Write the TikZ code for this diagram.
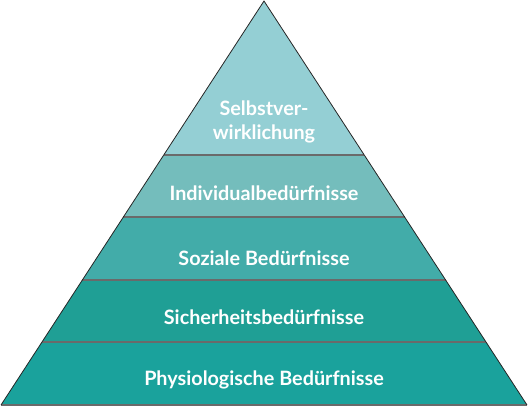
\documentclass[tikz,border=0pt]{standalone}
\usepackage{fontspec}
\setmainfont{Lato}[UprightFont=* Bold]
\definecolor{c1}{HTML}{94CFD4}
\definecolor{c2}{HTML}{74BDBC}
\definecolor{c3}{HTML}{42ACA9}
\definecolor{c4}{HTML}{1F9F95}
\definecolor{c5}{HTML}{1AA29C}
\definecolor{sep}{HTML}{6A6A6A}
\begin{document}
\begin{tikzpicture}[x=1pt,y=-1pt,
  lbl/.style={text=white,font=\fontsize{19.8}{23.5}\selectfont,align=center,inner sep=0pt},
  sepline/.style={draw=sep,line width=1.8pt}]
\useasboundingbox (0,0) rectangle (528,407);
\coordinate (apex) at (264,1);
\coordinate (bl) at (1,405);
\coordinate (br) at (527,405);
\coordinate (l1) at (163.7,155); \coordinate (r1) at (364.3,155);
\coordinate (l2) at (123.3,217); \coordinate (r2) at (404.7,217);
\coordinate (l3) at (82.3,280); \coordinate (r3) at (445.7,280);
\coordinate (l4) at (41.9,342); \coordinate (r4) at (486.1,342);
\fill[c1] (apex) -- (l1) -- (r1) -- cycle;
\fill[c2] (l1) -- (l2) -- (r2) -- (r1) -- cycle;
\fill[c3] (l2) -- (l3) -- (r3) -- (r2) -- cycle;
\fill[c4] (l3) -- (l4) -- (r4) -- (r3) -- cycle;
\fill[c5] (l4) -- (bl) -- (br) -- (r4) -- cycle;
\draw[sepline] (l1) -- (r1);
\draw[sepline] (l2) -- (r2);
\draw[sepline] (l3) -- (r3);
\draw[sepline] (l4) -- (r4);
\draw[sepline] (bl) -- (br);
\draw[black!85,line width=0.8pt,line join=miter] (bl) -- (apex) -- (br);
\node[lbl] (t1) at (264,122) {Selbstver-\\wirklichung};
\node[lbl] (t2) at (264,193) {Individualbedürfnisse};
\node[lbl] (t3) at (264,258) {Soziale Bedürfnisse};
\node[lbl] (t4) at (264,317) {Sicherheitsbedürfnisse};
\node[lbl] (t5) at (264,380) {Physiologische Bedürfnisse};
\end{tikzpicture}
\end{document}
